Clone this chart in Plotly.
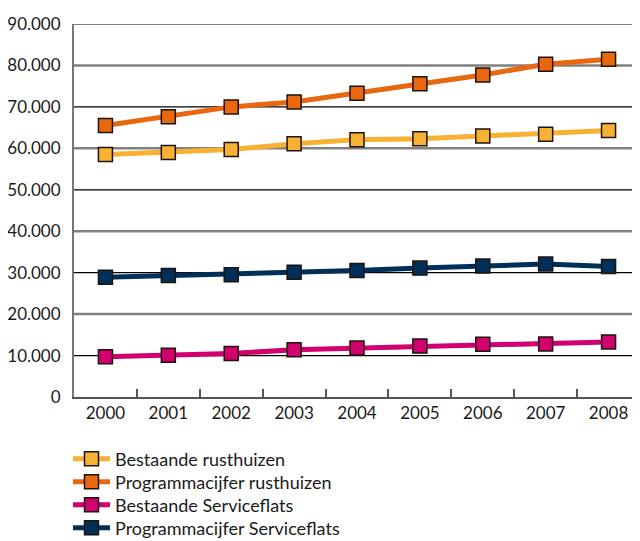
import plotly.graph_objects as go

years = ["2000", "2001", "2002", "2003", "2004", "2005", "2006", "2007", "2008"]
bestaande_rusthuizen = [58500, 59000, 59700, 61100, 62100, 62300, 63000, 63400, 64300]
programma_rusthuizen = [65500, 67600, 70000, 71200, 73300, 75600, 77700, 80300, 81500]
bestaande_serviceflats = [9700, 10100, 10500, 11400, 11800, 12300, 12700, 12800, 13300]
programma_serviceflats = [28900, 29300, 29500, 30100, 30500, 31100, 31600, 32100, 31500]

series_names = ["Bestaande rusthuizen", "Programmacijfer rusthuizen",
                "Bestaande Serviceflats", "Programmacijfer Serviceflats"]
series_values = [bestaande_rusthuizen, programma_rusthuizen,
                 bestaande_serviceflats, programma_serviceflats]
colors = ["#F8B233", "#E9670F", "#D1006E", "#00305A"]

y_ticks = [0, 10000, 20000, 30000, 40000, 50000, 60000, 70000, 80000, 90000]

W, H = 640, 541
OFF = 8  # page body margin offset
legend_rows_px = [459, 482, 505, 528]

fig = go.Figure()
layout_legends = {}
for i, (name, vals, col) in enumerate(zip(series_names, series_values, colors)):
    lg = "legend" if i == 0 else f"legend{i + 1}"
    fig.add_trace(go.Scatter(
        x=years, y=vals, name=name, mode="lines+markers",
        line=dict(color=col, width=5),
        marker=dict(symbol="square", size=14, color=col,
                    line=dict(color="#1e140c", width=1.5)),
        legend=lg,
    ))
    layout_legends[lg] = dict(
        xref="container", yref="container",
        x=(68 - OFF) / W, y=1 - (legend_rows_px[i] - OFF) / H,
        xanchor="left", yanchor="middle",
        font=dict(size=18), itemwidth=37, bgcolor="rgba(0,0,0,0)",
    )

shapes = []
for t in y_ticks:
    if t == 0:
        continue
    gray = (t // 10000) % 2 == 0
    shapes.append(dict(type="line", xref="paper", yref="y", x0=0, x1=1, y0=t, y1=t,
                       line=dict(color="#808080" if gray else "#000000",
                                 width=2.5 if gray else 1.2),
                       layer="below"))

fig.update_layout(
    width=W, height=H,
    margin=dict(l=74 - OFF, r=OFF, t=24 - OFF, b=144 + OFF, autoexpand=False),
    paper_bgcolor="white", plot_bgcolor="white",
    separators=",.",
    font=dict(family="Lato, Open Sans, sans-serif", size=17, color="#1a1a1a"),
    shapes=shapes,
    showlegend=True,
    **layout_legends,
)
fig.update_xaxes(
    type="category", range=[-0.5, 8.5], showgrid=False,
    showline=True, linecolor="#555555", linewidth=2,
    ticks="inside", ticklen=8, tickcolor="#555555", tickwidth=1.5,
    tickson="boundaries", ticklabelstandoff=0, tickangle=0, automargin=False,
    tickfont=dict(size=17),
)
fig.update_yaxes(
    range=[0, 90000], tickvals=y_ticks, tickformat=",d", showgrid=False,
    showline=True, linecolor="#777777", linewidth=2, zeroline=False,
    ticks="", ticklabelstandoff=8, automargin=False,
    tickfont=dict(size=17),
)

fig.write_html("out.html")
